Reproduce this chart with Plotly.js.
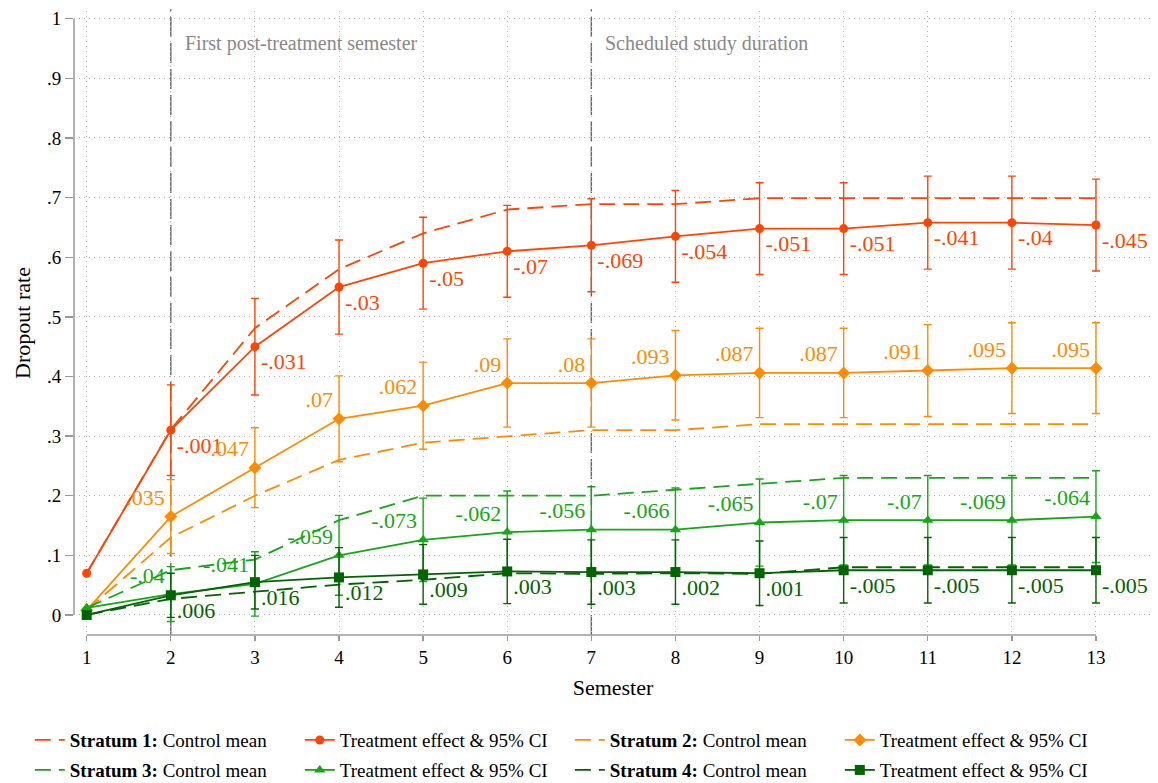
<!DOCTYPE html>
<html>
<head>
<meta charset="utf-8">
<script src="https://cdn.plot.ly/plotly-3.0.1.min.js"></script>
<style>
  html, body { margin: 0; padding: 0; background: #fff; }
  #chart { width: 1158px; height: 783px; }
</style>
</head>
<body>
<div id="chart"></div>
<script>
var semesters = [1, 2, 3, 4, 5, 6, 7, 8, 9, 10, 11, 12, 13];

// control means (dashed) and treated means (solid)
var controlS1 = [0.07, 0.311, 0.481, 0.58, 0.64, 0.68, 0.689, 0.689, 0.699, 0.699, 0.699, 0.699, 0.699];
var treatedS1 = [0.07, 0.31, 0.45, 0.55, 0.59, 0.61, 0.62, 0.635, 0.648, 0.648, 0.658, 0.658, 0.654];
var effectS1  = [null, -.001, -.031, -.03, -.05, -.07, -.069, -.054, -.051, -.051, -.041, -.04, -.045];
var ciS1      = [0, 0.076, 0.081, 0.079, 0.077, 0.077, 0.078, 0.077, 0.077, 0.077, 0.078, 0.078, 0.077];

var controlS2 = [0.008, 0.13, 0.20, 0.26, 0.289, 0.30, 0.31, 0.31, 0.32, 0.32, 0.32, 0.32, 0.32];
var treatedS2 = [0.008, 0.165, 0.247, 0.329, 0.351, 0.389, 0.389, 0.402, 0.406, 0.406, 0.41, 0.414, 0.414];
var effectS2  = [null, .035, .047, .07, .062, .09, .08, .093, .087, .087, .091, .095, .095];
var ciS2      = [0, 0.062, 0.067, 0.072, 0.073, 0.074, 0.074, 0.075, 0.075, 0.075, 0.077, 0.076, 0.076];

var controlS3 = [0.012, 0.075, 0.093, 0.159, 0.2, 0.2, 0.2, 0.21, 0.22, 0.23, 0.23, 0.23, 0.23];
var treatedS3 = [0.012, 0.035, 0.052, 0.1, 0.126, 0.139, 0.143, 0.143, 0.155, 0.159, 0.159, 0.159, 0.165];
var effectS3  = [null, -.04, -.041, -.059, -.073, -.062, -.056, -.066, -.065, -.07, -.07, -.069, -.064];
var ciS3      = [0, 0.046, 0.054, 0.067, 0.07, 0.069, 0.072, 0.07, 0.073, 0.075, 0.075, 0.075, 0.077];

var controlS4 = [0.0, 0.027, 0.039, 0.051, 0.059, 0.07, 0.069, 0.07, 0.069, 0.08, 0.08, 0.08, 0.08];
var treatedS4 = [0.0, 0.033, 0.055, 0.063, 0.068, 0.073, 0.072, 0.072, 0.07, 0.075, 0.075, 0.075, 0.075];
var effectS4  = [null, .006, .016, .012, .009, .003, .003, .002, .001, -.005, -.005, -.005, -.005];
var ciS4      = [0, 0.037, 0.045, 0.05, 0.05, 0.054, 0.054, 0.054, 0.054, 0.055, 0.055, 0.055, 0.055];

var yTicks = [0, 0.1, 0.2, 0.3, 0.4, 0.5, 0.6, 0.7, 0.8, 0.9, 1];
var yTickText = ["0", ".1", ".2", ".3", ".4", ".5", ".6", ".7", ".8", ".9", "1"];

var font = "'Liberation Serif', 'Times New Roman', serif";

// stata style number: .035, -.001
function fmt(v) {
    if (v === null) return "";
    var s = String(v);
    return s.replace(/^0\./, ".").replace(/^-0\./, "-.");
}

var strata = [
    {n: 1, control: controlS1, treated: treatedS1, effect: effectS1, ci: ciS1, color: "#FF4500", symbol: "circle", msize: 9, pos: "bottom right", legend: "legend"},
    {n: 2, control: controlS2, treated: treatedS2, effect: effectS2, ci: ciS2, color: "#FF8C00", symbol: "diamond", msize: 10, pos: "top left", legend: "legend"},
    {n: 3, control: controlS3, treated: treatedS3, effect: effectS3, ci: ciS3, color: "#14A814", symbol: "triangle-up", msize: 10, pos: "top left", legend: "legend2"},
    {n: 4, control: controlS4, treated: treatedS4, effect: effectS4, ci: ciS4, color: "#006400", symbol: "square", msize: 10, pos: "bottom right", legend: "legend2"}
];

var data = [];
var labels = [];
strata.forEach(function(s) {
    data.push({
        x: semesters, y: s.control, type: "scatter", mode: "lines",
        name: "<b>Stratum " + s.n + ":</b> Control mean",
        legend: s.legend,
        line: {color: s.color, width: 1.8, dash: "16px,8px"},
        hoverinfo: "skip"
    });
    data.push({
        x: semesters, y: s.treated, type: "scatter", mode: "markers",
        showlegend: false,
        marker: {size: 1, opacity: 0, color: s.color},
        error_y: {type: "data", array: s.ci, visible: true, color: s.color, thickness: 1.4, width: 4},
        hoverinfo: "skip"
    });
    data.push({
        x: semesters, y: s.treated, type: "scatter", mode: "lines+markers",
        name: "Treatment effect & 95% CI",
        legend: s.legend,
        line: {color: s.color, width: 1.8},
        marker: {color: s.color, symbol: s.symbol, size: s.msize}
    });
    // invisible marker only pushes the label away from the point
    labels.push({
        x: semesters, y: s.treated, type: "scatter", mode: "markers+text",
        showlegend: false,
        marker: {size: 8, opacity: 0},
        text: s.effect.map(fmt),
        textposition: s.pos,
        textfont: {family: font, size: 22, color: s.color},
        hoverinfo: "skip"
    });
});
data = data.concat(labels);

var layout = {
    width: 1158,
    height: 783,
    margin: {l: 74, r: 6, t: 11, b: 148, autoexpand: false},
    paper_bgcolor: "#fff",
    plot_bgcolor: "#fff",
    font: {family: font, size: 19, color: "#000"},
    xaxis: {
        range: [0.849, 13.666],
        tickvals: semesters,
        ticks: "outside", ticklen: 5, tickcolor: "#999", tickwidth: 1.3,
        showgrid: true, gridcolor: "#b4b4b4", griddash: "1px,4px", gridwidth: 1,
        zeroline: false, showline: false,
        tickfont: {family: font, size: 19, color: "#000"},
        title: {text: "Semester", font: {family: font, size: 22}, standoff: 12}
    },
    yaxis: {
        range: [-0.0336, 1.013],
        tickvals: yTicks, ticktext: yTickText,
        ticks: "outside", ticklen: 8, tickcolor: "#999", tickwidth: 1.3,
        showgrid: true, gridcolor: "#b4b4b4", griddash: "1px,4px", gridwidth: 1,
        zeroline: false, showline: false,
        tickfont: {family: font, size: 19, color: "#000"},
        title: {text: "Dropout rate", font: {family: font, size: 22}, standoff: 10}
    },
    shapes: [
        {type: "line", xref: "paper", x0: 0, x1: 0, yref: "y", y0: 0, y1: 1, line: {color: "#999", width: 1.5}},
        {type: "line", xref: "x", x0: 1, x1: 13, yref: "paper", y0: 0, y1: 0, line: {color: "#999", width: 1.5}},
        {type: "line", xref: "x", x0: 2, x1: 2, yref: "paper", y0: 0, y1: 1.003, line: {color: "#666", width: 1.4, dash: "20px,6px"}, layer: "below"},
        {type: "line", xref: "x", x0: 7, x1: 7, yref: "paper", y0: 0, y1: 1.003, line: {color: "#666", width: 1.4, dash: "20px,6px"}, layer: "below"}
    ],
    annotations: [
        {x: 2, y: 0.958, xref: "x", yref: "y", text: "First post-treatment semester", showarrow: false,
         xanchor: "left", yanchor: "middle", xshift: 12, font: {family: font, size: 20, color: "#888"}},
        {x: 7, y: 0.958, xref: "x", yref: "y", text: "Scheduled study duration", showarrow: false,
         xanchor: "left", yanchor: "middle", xshift: 12, font: {family: font, size: 20, color: "#888"}}
    ],
    legend: {
        orientation: "h", x: -0.041, xanchor: "left", y: -0.138, yanchor: "top",
        entrywidth: 225, entrywidthmode: "pixels",
        font: {family: font, size: 19}, bgcolor: "rgba(0,0,0,0)"
    },
    legend2: {
        orientation: "h", x: -0.041, xanchor: "left", y: -0.186, yanchor: "top",
        entrywidth: 225, entrywidthmode: "pixels",
        font: {family: font, size: 19}, bgcolor: "rgba(0,0,0,0)"
    },
    hovermode: false
};

Plotly.newPlot("chart", data, layout, {displayModeBar: false, staticPlot: true});
</script>
</body>
</html>
